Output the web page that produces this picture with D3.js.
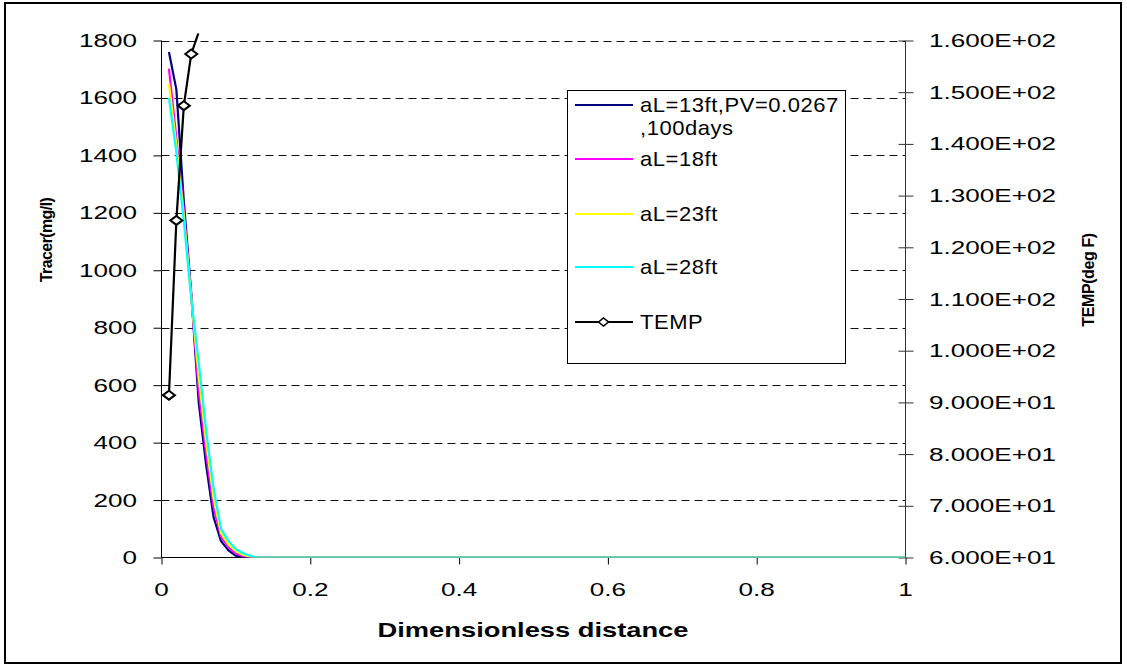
<!DOCTYPE html>
<html>
<head>
<meta charset="utf-8">
<script src="https://cdn.jsdelivr.net/npm/d3@7"></script>
<style>
  body { margin: 0; background: #fff; }
  svg { display: block; }
  text { font-family: Arial, "Liberation Sans", sans-serif; fill: #000; }
</style>
</head>
<body>
<div id="chart"></div>
<script>
////////////////////////////  Data  ////////////////////////////
const distance = [0.01, 0.02, 0.03, 0.04, 0.05, 0.06, 0.07, 0.08, 0.09, 0.1, 0.11, 0.12, 0.13, 1];
const tracer13 = [1760, 1629, 1240, 920, 540, 322, 140, 57, 25, 6, 0, 0, 0, 0];
const tracer18 = [1702, 1460, 1210, 912, 580, 360, 175, 72, 35, 14, 4, 0, 0, 0];
const tracer23 = [1650, 1434, 1190, 905, 630, 400, 205, 85, 45, 22, 9, 2, 0, 0];
const tracer28 = [1600, 1409, 1170, 900, 680, 440, 240, 100, 57, 29, 15, 5, 0, 0];

const tempDistance = [0.01, 0.02, 0.03, 0.04, 0.05, 0.06];
const tempValues = [91.4, 125.2, 147.4, 157.4, 161.6, 163.5];

const tracerTicks = [0, 200, 400, 600, 800, 1000, 1200, 1400, 1600, 1800];
const tempTicks = [60, 70, 80, 90, 100, 110, 120, 130, 140, 150, 160];
const distTicks = [0, 0.2, 0.4, 0.6, 0.8, 1];

const seriesNames = ["aL=13ft,PV=0.0267", "aL=18ft", "aL=23ft", "aL=28ft"];
const seriesColors = ["#000080", "#ff00ff", "#ffff00", "#00ffff"];
const seriesValues = [tracer13, tracer18, tracer23, tracer28];

////////////////////////////  Init  ////////////////////////////
const width = 1127;
const height = 667;
const plot = { left: 161.5, right: 905.5, top: 40.5, bottom: 557.5 };

const svg = d3.select("#chart").append("svg")
  .attr("width", width)
  .attr("height", height);

// outer frame
svg.append("rect")
  .attr("x", 5).attr("y", 3)
  .attr("width", 1116).attr("height", 660)
  .attr("fill", "none")
  .attr("stroke", "#000")
  .attr("stroke-width", 2);

// scales
const x = d3.scaleLinear().domain([0, 1]).range([plot.left, plot.right]);
const y = d3.scaleLinear().domain([0, 1800]).range([plot.bottom, plot.top]);
const yTemp = d3.scaleLinear().domain([60, 160]).range([plot.bottom, plot.top]);

// gridlines
svg.append("g")
  .selectAll("line")
  .data(tracerTicks.filter((d) => d > 0))
  .join("line")
  .attr("x1", plot.left)
  .attr("x2", plot.right)
  .attr("y1", (d) => Math.round(y(d)) + 0.5)
  .attr("y2", (d) => Math.round(y(d)) + 0.5)
  .attr("stroke", "#111")
  .attr("stroke-dasharray", "8,5");

// axes (ticks only, labels drawn below so they can be stretched like Excel)
const leftAxis = svg.append("g")
  .attr("transform", `translate(${plot.left},0)`)
  .call(d3.axisLeft(y).tickValues(tracerTicks).tickSize(8).tickFormat(""));

const bottomAxis = svg.append("g")
  .attr("transform", `translate(0,${plot.bottom})`)
  .call(d3.axisBottom(x).tickValues(distTicks).tickSize(7).tickFormat(""));

const rightAxis = svg.append("g")
  .attr("transform", `translate(${plot.right},0)`)
  .call(d3.axisRight(yTemp).tickValues(tempTicks).tickSize(8).tickFormat(""));
rightAxis.selectAll(".tick line").attr("x1", -7);
rightAxis.selectAll("path, line").attr("stroke", "#333");

[leftAxis, bottomAxis, rightAxis].forEach((a) => {
  a.select(".domain").attr("d", null);
});
leftAxis.append("line").attr("y1", plot.top).attr("y2", plot.bottom).attr("stroke", "#000");
bottomAxis.append("line").attr("x1", plot.left).attr("x2", plot.right).attr("stroke", "#000");
rightAxis.append("line").attr("y1", plot.top).attr("y2", plot.bottom).attr("stroke", "#333");

// tick labels
const labelSize = 18;
const stretch = 1.45;

svg.append("g")
  .selectAll("text")
  .data(tracerTicks)
  .join("text")
  .attr("transform", (d) => `translate(137,${y(d) + 6.5}) scale(${stretch},1)`)
  .attr("text-anchor", "end")
  .style("font-size", labelSize + "px")
  .text((d) => d);

svg.append("g")
  .selectAll("text")
  .data(tempTicks)
  .join("text")
  .attr("transform", (d) => `translate(929,${yTemp(d) + 6.5}) scale(${stretch},1)`)
  .style("font-size", labelSize + "px")
  .text((d) => d.toExponential(3).replace(/e([+-])(\d)$/, "E$10$2").replace("e", "E"));

svg.append("g")
  .selectAll("text")
  .data(distTicks)
  .join("text")
  .attr("transform", (d) => `translate(${x(d)},596) scale(${stretch},1)`)
  .attr("text-anchor", "middle")
  .style("font-size", labelSize + "px")
  .text((d) => d);

// axis titles
svg.append("text")
  .attr("transform", "translate(533,637) scale(1.3,1)")
  .attr("text-anchor", "middle")
  .style("font-size", "21px")
  .style("font-weight", "bold")
  .text("Dimensionless distance");

svg.append("text")
  .attr("transform", "translate(52,240) rotate(-90)")
  .attr("text-anchor", "middle")
  .style("font-size", "16px")
  .style("font-weight", "bold")
  .style("letter-spacing", "-0.6px")
  .text("Tracer(mg/l)");

svg.append("text")
  .attr("transform", "translate(1094,280) rotate(-90)")
  .attr("text-anchor", "middle")
  .style("font-size", "16px")
  .style("font-weight", "bold")
  .style("letter-spacing", "-0.4px")
  .text("TEMP(deg F)");

// clip
svg.append("clipPath").attr("id", "clip")
  .append("rect")
  .attr("x", plot.left).attr("y", plot.top - 7)
  .attr("width", plot.right - plot.left).attr("height", plot.bottom - plot.top + 7);

const lines = svg.append("g").attr("clip-path", "url(#clip)");

const tracerLine = d3.line()
  .x((d, i) => x(distance[i]))
  .y((d) => y(d));

lines.selectAll(".tracer")
  .data(seriesValues)
  .join("path")
  .attr("class", "tracer")
  .attr("d", tracerLine)
  .attr("fill", "none")
  .attr("stroke", (d, i) => seriesColors[i])
  .attr("stroke-width", 2.2)
  .attr("stroke-linejoin", "round");

const tempLine = d3.line()
  .x((d, i) => x(tempDistance[i]))
  .y((d) => yTemp(d));

lines.append("path")
  .datum(tempValues)
  .attr("d", tempLine)
  .attr("fill", "none")
  .attr("stroke", "#000")
  .attr("stroke-width", 2.2);

const diamond = (cx, cy, w, h) =>
  `M${cx - w / 2},${cy}L${cx},${cy - h / 2}L${cx + w / 2},${cy}L${cx},${cy + h / 2}Z`;

lines.selectAll(".marker")
  .data(tempValues.slice(0, 4))
  .join("path")
  .attr("class", "marker")
  .attr("d", (d, i) => diamond(x(tempDistance[i]), yTemp(d), 12, 9))
  .attr("fill", "#fff")
  .attr("stroke", "#000")
  .attr("stroke-width", 2);

// legend
const legend = svg.append("g");
legend.append("rect")
  .attr("x", 567.5).attr("y", 90.5)
  .attr("width", 278).attr("height", 273)
  .attr("fill", "#fff")
  .attr("stroke", "#000");

const legendY = [105, 159, 214, 267, 322];
const legendItems = seriesNames.map((n, i) => ({ name: n, color: seriesColors[i] }))
  .concat([{ name: "TEMP", color: "#000", marker: true }]);

legendItems.forEach((d, i) => {
  const ly = legendY[i];
  legend.append("line")
    .attr("x1", 575).attr("x2", 633)
    .attr("y1", ly).attr("y2", ly)
    .attr("stroke", d.color)
    .attr("stroke-width", 2);
  if (d.marker) {
    legend.append("path")
      .attr("d", diamond(603.5, ly, 10, 8))
      .attr("fill", "#fff")
      .attr("stroke", "#000")
      .attr("stroke-width", 1.6);
  }
  legend.append("text")
    .attr("transform", `translate(640,${ly + 7}) scale(1.1,1)`)
    .style("font-size", "20px")
    .style("letter-spacing", "0.5px")
    .text(d.name);
});
legend.append("text")
  .attr("transform", "translate(640,135) scale(1.1,1)")
  .style("font-size", "20px")
  .style("letter-spacing", "0.5px")
  .text(",100days");
</script>
</body>
</html>
